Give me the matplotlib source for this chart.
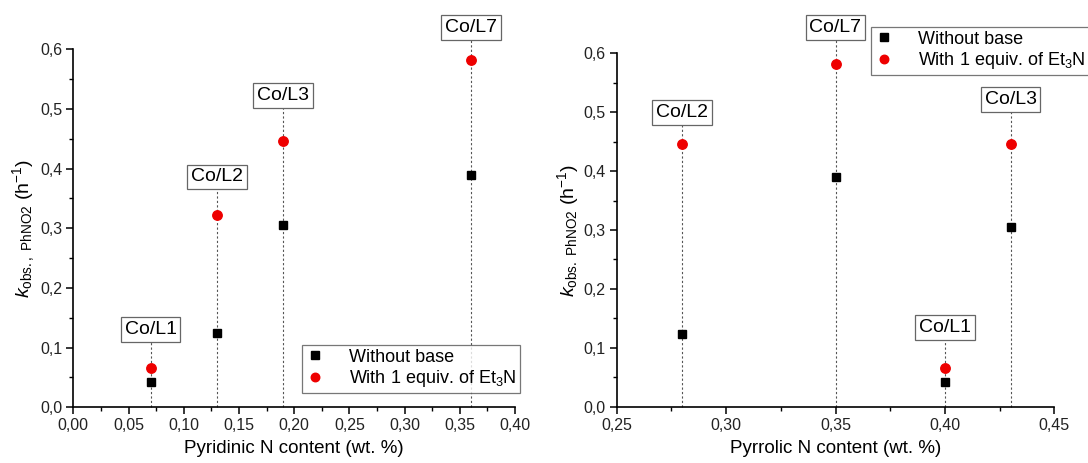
import matplotlib
matplotlib.use("Agg")
import matplotlib.pyplot as plt
from matplotlib.ticker import MultipleLocator, FuncFormatter

plt.rcParams["font.family"] = ["Liberation Sans", "DejaVu Sans"]
plt.rcParams["mathtext.fontset"] = "custom"
plt.rcParams["mathtext.rm"] = "Liberation Sans"
plt.rcParams["mathtext.it"] = "Liberation Sans:italic"

# Catalyst labels and measured rate constants
pyridinic_labels = ["Co/L1", "Co/L2", "Co/L3", "Co/L7"]
pyridinic_n = [0.07, 0.13, 0.19, 0.36]
pyridinic_k_no_base = [0.042, 0.124, 0.305, 0.390]
pyridinic_k_et3n = [0.066, 0.322, 0.446, 0.582]
pyridinic_label_y = [0.130, 0.386, 0.523, 0.637]

pyrrolic_labels = ["Co/L2", "Co/L7", "Co/L1", "Co/L3"]
pyrrolic_n = [0.28, 0.35, 0.40, 0.43]
pyrrolic_k_no_base = [0.124, 0.390, 0.042, 0.305]
pyrrolic_k_et3n = [0.446, 0.582, 0.066, 0.446]
pyrrolic_label_y = [0.500, 0.644, 0.135, 0.521]

W, H = 1088, 463
fig = plt.figure(figsize=(W / 100, H / 100), dpi=100)


def fmt(decimals):
    return FuncFormatter(lambda v, p: f"{v:.{decimals}f}".replace(".", ","))


def panel(rect, x, k0, k1, names, label_y, xlim, xmajor, xlabel, ylabel, legend_xy):
    ax = fig.add_axes(rect)
    ax.set_xlim(*xlim)
    ax.set_ylim(0, 0.6)
    for s in ("top", "right"):
        ax.spines[s].set_visible(False)
    for s in ("left", "bottom"):
        ax.spines[s].set_linewidth(1.2)
    ax.xaxis.set_major_locator(MultipleLocator(xmajor))
    ax.xaxis.set_minor_locator(MultipleLocator(xmajor / 2))
    ax.yaxis.set_major_locator(MultipleLocator(0.1))
    ax.yaxis.set_minor_locator(MultipleLocator(0.05))
    ax.xaxis.set_major_formatter(fmt(2))
    ax.yaxis.set_major_formatter(fmt(1))
    ax.tick_params(which="major", direction="out", length=5, width=1.1,
                   labelsize=11.5, labelcolor="#222222", pad=3)
    ax.tick_params(which="minor", direction="out", length=3, width=1.0)

    for xi, name, ly in zip(x, names, label_y):
        ax.plot([xi, xi], [0, ly], ls=(0, (2, 2)), lw=0.8, color="#555555",
                clip_on=False, zorder=1)
        ax.text(xi, ly, name, ha="center", va="center", fontsize=14,
                clip_on=False, zorder=5,
                bbox=dict(boxstyle="square,pad=0.2", fc="white",
                          ec="#666666", lw=0.9))

    ax.plot(x, k0, ls="none", marker="s", ms=6.2, color="black",
            label="Without base", clip_on=False, zorder=3)
    ax.plot(x, k1, ls="none", marker="o", ms=6.8, color="#ee0000", mec="#ee0000",
            label="With 1 equiv. of Et$_3$N", clip_on=False, zorder=3)

    ax.set_xlabel(xlabel, fontsize=13.5, labelpad=5)
    ax.set_ylabel(ylabel, fontsize=14, labelpad=2)

    leg = ax.legend(loc="upper left", bbox_to_anchor=legend_xy,
                    bbox_transform=fig.transFigure, borderaxespad=0,
                    fontsize=13, frameon=True, fancybox=False,
                    handlelength=1.0, handletextpad=1.4, borderpad=0.2,
                    labelspacing=0.15, markerscale=0.9)
    leg.get_frame().set_edgecolor("#555555")
    leg.get_frame().set_linewidth(0.9)
    leg.set_zorder(10)
    return ax


panel([73.3 / W, 1 - 407.3 / H, (515 - 73.3) / W, (407.3 - 49.3) / H],
      pyridinic_n, pyridinic_k_no_base, pyridinic_k_et3n, pyridinic_labels,
      pyridinic_label_y, (0, 0.40), 0.05,
      "Pyridinic N content (wt. %)",
      r"$k_{\mathrm{obs.,\ PhNO2}}$ (h$^{\mathrm{-1}}$)",
      (302 / W, 1 - 345 / H))

panel([616.7 / W, 1 - 406.7 / H, (1054.3 - 616.7) / W, (406.7 - 53.3) / H],
      pyrrolic_n, pyrrolic_k_no_base, pyrrolic_k_et3n, pyrrolic_labels,
      pyrrolic_label_y, (0.25, 0.45), 0.05,
      "Pyrrolic N content (wt. %)",
      r"$k_{\mathrm{obs.\ PhNO2}}$ (h$^{\mathrm{-1}}$)",
      (871 / W, 1 - 27 / H))

fig.savefig("out.png", dpi=100)
